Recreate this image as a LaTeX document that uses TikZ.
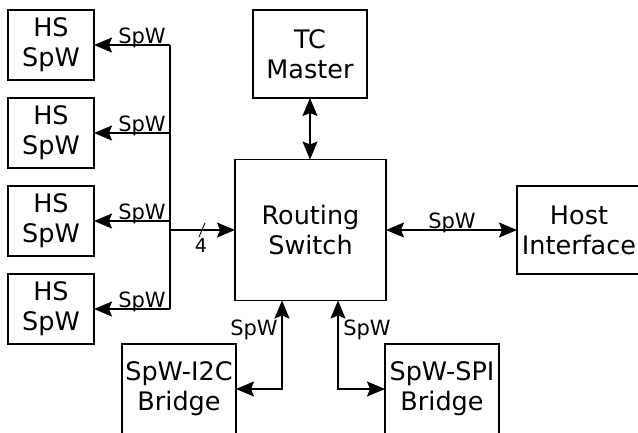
\documentclass[tikz,border=0pt]{standalone}
\usepackage{fontspec}
\setmainfont{DejaVu Sans}
\usetikzlibrary{arrows.meta}
\begin{document}
\begin{tikzpicture}[x=1pt,y=-1pt,
  >={Stealth[length=18pt,width=15pt,inset=3pt]},
  box/.style={draw,line width=1.3pt,inner sep=0pt,outer sep=0pt,align=center,
    font=\fontsize{25.5}{30}\selectfont},
  lbl/.style={inner sep=0pt,anchor=base,font=\fontsize{21}{24}\selectfont},
  conn/.style={line width=1.3pt}]
\useasboundingbox (0,0) rectangle (638,432);
% boxes
\node[box,minimum width=86pt,minimum height=70pt] (hs1) at (51,45) {HS\\SpW};
\node[box,minimum width=86pt,minimum height=70pt] (hs2) at (51,133) {HS\\SpW};
\node[box,minimum width=86pt,minimum height=70pt] (hs3) at (51,221) {HS\\SpW};
\node[box,minimum width=86pt,minimum height=70pt] (hs4) at (51,309) {HS\\SpW};
\node[box,minimum width=114pt,minimum height=88pt] (tc) at (310,54) {TC\\Master};
\node[box,minimum width=151pt,minimum height=141pt] (sw) at (310.5,230) {Routing\\Switch};
\node[box,minimum width=124pt,minimum height=88pt] (host) at (579,230) {Host\\Interface};
\node[box,minimum width=114pt,minimum height=90pt] (i2c) at (179,389) {SpW-I2C\\Bridge};
\node[box,minimum width=114pt,minimum height=90pt] (spi) at (442,389) {SpW-SPI\\Bridge};
% bus
\coordinate (bt) at (170,45);
\coordinate (bb) at (170,309);
\coordinate (bm) at (170,230);
\draw[conn] (bt) -- (bb);
\draw[conn,->] (bt) -- (hs1.east);
\draw[conn,->] (bt |- hs2.east) -- (hs2.east);
\draw[conn,->] (bt |- hs3.east) -- (hs3.east);
\draw[conn,->] (bb) -- (hs4.east);
\draw[conn,->] (bm) -- (sw.west);
\node[lbl] (l1) at (142,43) {SpW};
\node[lbl] (l2) at (142,131) {SpW};
\node[lbl] (l3) at (142,219) {SpW};
\node[lbl] (l4) at (142,307) {SpW};
\coordinate (sa) at (199,237);
\coordinate (sb) at (205,223);
\draw[line width=0.9pt] (sa) -- (sb);
\node[lbl,font=\fontsize{19}{22}\selectfont] (n4) at (201,252) {4};
% TC and host
\draw[conn,<->] (tc.south) -- (sw.north -| tc.south);
\draw[conn,<->] (sw.east) -- (host.west);
\node[lbl] (lh) at (452,228) {SpW};
% bridges
\draw[conn,<->] (i2c.east) -| ([xshift=-28.5pt]sw.south);
\draw[conn,<->] (spi.west) -| ([xshift=27.5pt]sw.south);
\node[lbl] (li) at (254,335) {SpW};
\node[lbl] (ls) at (367,335) {SpW};
\end{tikzpicture}
\end{document}
